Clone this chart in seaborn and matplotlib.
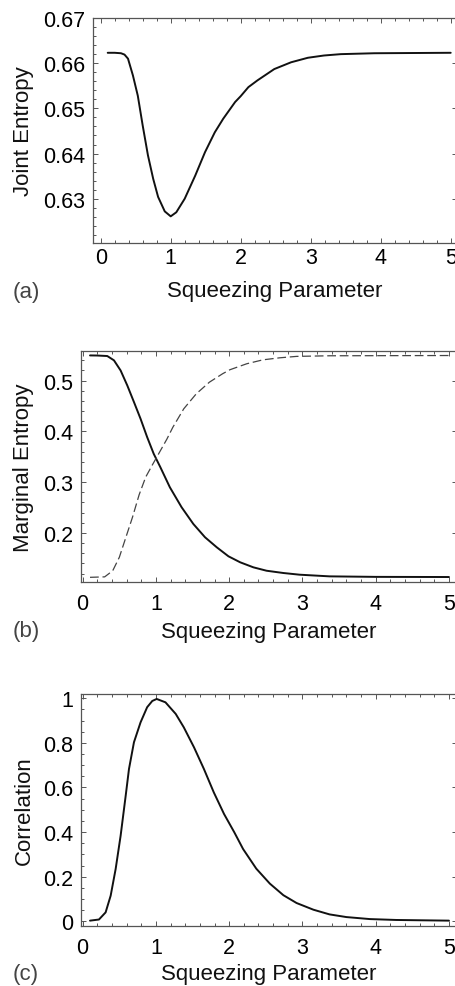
import matplotlib
matplotlib.use("Agg")
import matplotlib.pyplot as plt
import seaborn as sns
import pandas as pd
from matplotlib.ticker import MultipleLocator, FixedLocator, FuncFormatter

# ---------------- data ----------------
joint_x = [0.10, 0.20, 0.29, 0.34, 0.39, 0.46, 0.53, 0.60, 0.675, 0.75, 0.82, 0.915,
           1.00, 1.08, 1.20, 1.35, 1.49, 1.63, 1.75, 1.92, 2.00, 2.11, 2.24, 2.48,
           2.72, 2.96, 3.19, 3.43, 3.91, 5.00]
joint_y = [0.6623, 0.6623, 0.6622, 0.6619, 0.6610, 0.6573, 0.6528, 0.6462, 0.6396, 0.6344,
           0.6304, 0.6272, 0.6261, 0.6270, 0.6300, 0.6351, 0.6403, 0.6447, 0.6477, 0.6514,
           0.6527, 0.6547, 0.6562, 0.6587, 0.6602, 0.6612, 0.6617, 0.6620, 0.6622, 0.6623]

marg_solid_x = [0.10, 0.20, 0.336, 0.427, 0.518, 0.609, 0.70, 0.79, 0.88, 0.97, 1.06,
                1.19, 1.35, 1.51, 1.67, 1.83, 1.99, 2.15, 2.33, 2.51, 2.74, 2.96, 3.37,
                4.00, 5.00]
marg_solid_y = [0.5497, 0.5495, 0.5485, 0.540, 0.520, 0.4905, 0.4578, 0.4249, 0.3888,
                0.3558, 0.3296, 0.290, 0.2507, 0.2178, 0.1915, 0.1718, 0.154, 0.1422,
                0.1323, 0.1256, 0.1211, 0.1178, 0.1145, 0.1135, 0.1132]
marg_dash_x = [0.10, 0.30, 0.41, 0.50, 0.59, 0.68, 0.77, 0.86, 0.955, 1.01, 1.15, 1.23,
               1.38, 1.55, 1.73, 1.91, 2.01, 2.24, 2.46, 2.69, 2.92, 3.37, 5.00]
marg_dash_y = [0.1126, 0.1135, 0.1256, 0.152, 0.1915, 0.231, 0.275, 0.310, 0.335, 0.349,
               0.385, 0.408, 0.4446, 0.474, 0.497, 0.5136, 0.5215, 0.5333, 0.541, 0.545,
               0.5478, 0.549, 0.5495]

corr_x = [0.10, 0.222, 0.313, 0.382, 0.45, 0.518, 0.587, 0.632, 0.70, 0.79, 0.88, 0.95,
          1.01, 1.13, 1.27, 1.38, 1.52, 1.655, 1.79, 1.93, 2.07, 2.19, 2.37, 2.555, 2.74,
          2.92, 3.15, 3.37, 3.60, 3.92, 4.28, 5.00]
corr_y = [0.003, 0.008, 0.040, 0.115, 0.2345, 0.384, 0.563, 0.683, 0.803, 0.892, 0.960,
          0.988, 0.997, 0.982, 0.930, 0.870, 0.780, 0.683, 0.578, 0.481, 0.399, 0.324,
          0.236, 0.169, 0.117, 0.082, 0.052, 0.031, 0.019, 0.010, 0.006, 0.003]

x_ticks = [0, 1, 2, 3, 4, 5]
joint_yticks = [0.63, 0.64, 0.65, 0.66, 0.67]
marg_yticks = [0.2, 0.3, 0.4, 0.5]
corr_yticks = [0, 0.2, 0.4, 0.6, 0.8, 1]

xlabel = "Squeezing Parameter"
ylabels = ["Joint Entropy", "Marginal Entropy", "Correlation"]
panel_tags = ["(a)", "(b)", "(c)"]

# ---------------- figure ----------------
sns.set_style("ticks")
plt.rcParams["font.family"] = ["Liberation Sans", "DejaVu Sans"]

W, H = 456, 987
fig = plt.figure(figsize=(W / 100, H / 100), dpi=100)


def add_axes_px(left, top, right, bottom):
    return fig.add_axes([left / W, 1 - bottom / H, (right - left) / W, (bottom - top) / H])


panels = [
    dict(box=(93, 19, 457, 244), xlim=(-0.11, 5.09), ylim=(0.6202, 0.6700),
         yticks=joint_yticks, yminor=0.002, xpad=3, xlab_y=292, tag_y=292.5),
    dict(box=(81, 351.7, 457, 583.3), xlim=(-0.023, 5.11), ylim=(0.1028, 0.559),
         yticks=marg_yticks, yminor=0.02, xpad=8, xlab_y=632.5, tag_y=632),
    dict(box=(81, 694.5, 457, 926.5), xlim=(-0.023, 5.11), ylim=(-0.0188, 1.0215),
         yticks=corr_yticks, yminor=0.05, xpad=8, xlab_y=975, tag_y=975),
]

axes = [add_axes_px(*p["box"]) for p in panels]

line_kw = dict(color="#111111", linewidth=1.4)

sns.lineplot(data=pd.DataFrame({"x": joint_x, "y": joint_y}), x="x", y="y",
             ax=axes[0], sort=False, estimator=None, **line_kw)
sns.lineplot(data=pd.DataFrame({"x": marg_solid_x, "y": marg_solid_y}), x="x", y="y",
             ax=axes[1], sort=False, estimator=None, **line_kw)
sns.lineplot(data=pd.DataFrame({"x": marg_dash_x, "y": marg_dash_y}), x="x", y="y",
             ax=axes[1], sort=False, estimator=None, color="#444444", linewidth=0.9)
axes[1].lines[-1].set_dashes((7, 3))
sns.lineplot(data=pd.DataFrame({"x": corr_x, "y": corr_y}), x="x", y="y",
             ax=axes[2], sort=False, estimator=None, **line_kw)


def fmt(v, pos):
    if abs(v - round(v)) < 1e-9:
        return f"{int(round(v))}"
    return f"{v:.2f}".rstrip("0")


for ax, p, yl, tag in zip(axes, panels, ylabels, panel_tags):
    left, top, right, bottom = p["box"]
    ax.set_xlim(*p["xlim"])
    ax.set_ylim(*p["ylim"])
    ax.xaxis.set_major_locator(FixedLocator(x_ticks))
    ax.xaxis.set_minor_locator(MultipleLocator(0.2))
    ax.yaxis.set_major_locator(FixedLocator(p["yticks"]))
    ax.yaxis.set_minor_locator(MultipleLocator(p["yminor"]))
    ax.xaxis.set_major_formatter(FuncFormatter(fmt))
    ax.yaxis.set_major_formatter(FuncFormatter(fmt))
    for s in ax.spines.values():
        s.set_visible(True)
        s.set_color("#555555")
        s.set_linewidth(0.9)
    ax.tick_params(which="both", direction="in", top=True, right=True,
                   color="#555555", width=0.7)
    ax.tick_params(which="major", length=3.5)
    ax.tick_params(which="minor", length=2)
    ax.tick_params(axis="x", which="major", labelsize=15.5, pad=p["xpad"], labelcolor="black")
    ax.tick_params(axis="y", which="major", labelsize=15.5, pad=5.5, labelcolor="black")
    ax.tick_params(axis="y", which="minor", right=False)

    ax.set_xlabel(xlabel, fontsize=16, color="#111111")
    ax.xaxis.label.set_va("center")
    ax.xaxis.set_label_coords(0.5, (bottom - p["xlab_y"]) / (bottom - top))
    ax.set_ylabel(yl, fontsize=16, color="#111111")
    ax.yaxis.label.set_va("center")
    ax.yaxis.set_label_coords((24 - left) / (right - left), 0.5)

    fig.text(26 / W, 1 - p["tag_y"] / H, tag, fontsize=16, color="#444444",
             ha="center", va="center")

fig.savefig("out.png", dpi=100)
